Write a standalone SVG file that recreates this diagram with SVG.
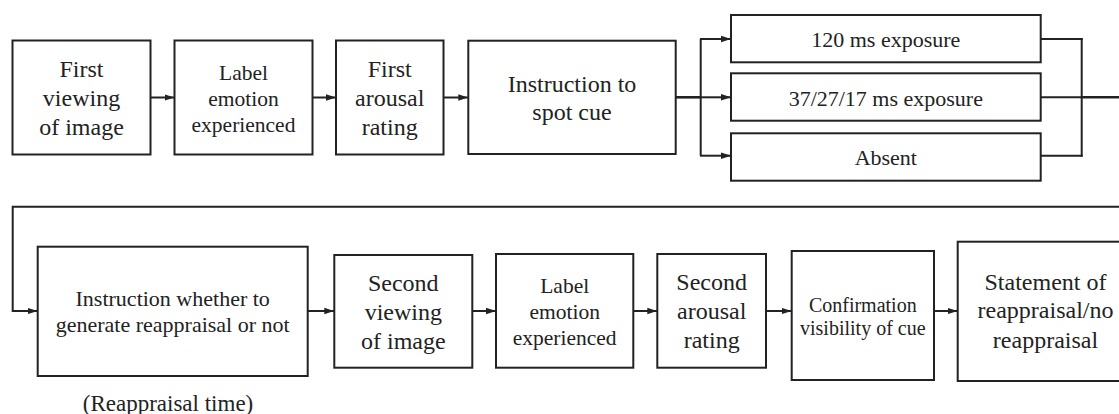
<svg xmlns="http://www.w3.org/2000/svg" width="1119" height="414" viewBox="0 0 1119 414">
  <style>
    .box { fill: #ffffff; stroke: #222222; stroke-width: 2; }
    .line { fill: none; stroke: #222222; stroke-width: 2; }
    .lbl { font-family: 'Liberation Serif', 'DejaVu Serif', 'Times New Roman', Times, serif; fill: #222222; text-anchor: middle; }
    .t24 { font-size: 24px; }
    .t22 { font-size: 22px; }
    .t21 { font-size: 21.5px; }
    .t20 { font-size: 20px; }
  </style>
  <defs>
    <marker id="arrow" markerUnits="userSpaceOnUse" markerWidth="10" markerHeight="8" refX="10" refY="4" orient="auto">
      <path d="M0,0.8 L10,4 L0,7.2 z" fill="#222222"/>
    </marker>
  </defs>
  <rect width="1119" height="414" fill="#ffffff"/>

  <g id="connectors">
    <line class="line" x1="150.5" y1="97.5" x2="174.5" y2="97.5" marker-end="url(#arrow)"/>
    <line class="line" x1="312.5" y1="97.5" x2="336" y2="97.5" marker-end="url(#arrow)"/>
    <line class="line" x1="443.5" y1="97.5" x2="468.3" y2="97.5" marker-end="url(#arrow)"/>
    <line class="line" x1="675.7" y1="97.3" x2="700.7" y2="97.3" style="stroke-width:2.6"/>
    <line class="line" x1="700.7" y1="39" x2="700.7" y2="155.7"/>
    <line class="line" x1="700" y1="39" x2="731" y2="39" marker-end="url(#arrow)"/>
    <line class="line" x1="700" y1="97.3" x2="731" y2="97.3" marker-end="url(#arrow)"/>
    <line class="line" x1="700" y1="155.7" x2="731" y2="155.7" marker-end="url(#arrow)"/>
    <line class="line" x1="1040.7" y1="39" x2="1082.7" y2="39"/>
    <line class="line" x1="1040.7" y1="97.3" x2="1081.7" y2="97.3"/>
    <line class="line" x1="1040.7" y1="155.7" x2="1082.7" y2="155.7"/>
    <line class="line" x1="1081.7" y1="38" x2="1081.7" y2="156.7"/>
    <line class="line" x1="1081.7" y1="97.3" x2="1119" y2="97.3" style="stroke-width:2.6"/>
    <polyline class="line" points="1119,206.7 12.7,206.7 12.7,311 37.7,311" marker-end="url(#arrow)"/>
    <line class="line" x1="307.7" y1="311" x2="334.3" y2="311" marker-end="url(#arrow)"/>
    <line class="line" x1="472.3" y1="311" x2="496" y2="311" marker-end="url(#arrow)"/>
    <line class="line" x1="633.3" y1="311" x2="657.3" y2="311" marker-end="url(#arrow)"/>
    <line class="line" x1="766" y1="311" x2="791.7" y2="311" marker-end="url(#arrow)"/>
    <line class="line" x1="934" y1="311" x2="957.7" y2="311" marker-end="url(#arrow)"/>
  </g>

  <g id="first-viewing">
    <rect class="box" x="12.5" y="40.5" width="138" height="114"/>
    <text class="lbl t24" x="81.5" y="77.3">First</text>
    <text class="lbl t24" x="81.5" y="106">viewing</text>
    <text class="lbl t24" x="81.5" y="135">of image</text>
  </g>
  <g id="label-emotion-1">
    <rect class="box" x="174.5" y="40.5" width="138" height="114"/>
    <text class="lbl t21" x="243.5" y="80">Label</text>
    <text class="lbl t21" x="243.5" y="106">emotion</text>
    <text class="lbl t21" x="243.5" y="132.3">experienced</text>
  </g>
  <g id="first-arousal">
    <rect class="box" x="336" y="40.5" width="107.5" height="114"/>
    <text class="lbl t24" x="389.7" y="77.3">First</text>
    <text class="lbl t24" x="389.7" y="106">arousal</text>
    <text class="lbl t24" x="389.7" y="135">rating</text>
  </g>
  <g id="instruction-spot-cue">
    <rect class="box" x="468.3" y="40.7" width="207.4" height="113.3"/>
    <text class="lbl t24" x="572" y="91.7">Instruction to</text>
    <text class="lbl t24" x="572" y="120">spot cue</text>
  </g>
  <g id="exposure-120">
    <rect class="box" x="731" y="15" width="309.7" height="47.3"/>
    <text class="lbl t22" x="885.8" y="47">120 ms exposure</text>
  </g>
  <g id="exposure-37-27-17">
    <rect class="box" x="731" y="73.3" width="309.7" height="47.4"/>
    <text class="lbl t22" x="885.8" y="105.5">37/27/17 ms exposure</text>
  </g>
  <g id="absent">
    <rect class="box" x="731" y="133.3" width="309.7" height="47.4"/>
    <text class="lbl t22" x="885.8" y="164.5">Absent</text>
  </g>

  <g id="instruction-reappraisal">
    <rect class="box" x="37.7" y="246.7" width="270" height="129.3"/>
    <text class="lbl t22" x="172.7" y="306">Instruction whether to</text>
    <text class="lbl t22" x="172.7" y="331.7">generate reappraisal or not</text>
  </g>
  <g id="reappraisal-time">
    <text class="lbl" x="168" y="410.5" font-size="23">(Reappraisal time)</text>
  </g>
  <g id="second-viewing">
    <rect class="box" x="334.3" y="255" width="138" height="112.7"/>
    <text class="lbl t24" x="403.3" y="290.7">Second</text>
    <text class="lbl t24" x="403.3" y="320">viewing</text>
    <text class="lbl t24" x="403.3" y="349">of image</text>
  </g>
  <g id="label-emotion-2">
    <rect class="box" x="496" y="254" width="137.3" height="113.7"/>
    <text class="lbl t21" x="564.7" y="293.3">Label</text>
    <text class="lbl t21" x="564.7" y="319.3">emotion</text>
    <text class="lbl t21" x="564.7" y="344.5">experienced</text>
  </g>
  <g id="second-arousal">
    <rect class="box" x="657.3" y="254" width="108.7" height="113.7"/>
    <text class="lbl t24" x="711.7" y="290">Second</text>
    <text class="lbl t24" x="711.7" y="319.3">arousal</text>
    <text class="lbl t24" x="711.7" y="348.3">rating</text>
  </g>
  <g id="confirmation">
    <rect class="box" x="791.7" y="251" width="142.3" height="129"/>
    <text class="lbl t20" x="862.8" y="311.7">Confirmation</text>
    <text class="lbl t20" x="862.8" y="335">visibility of cue</text>
  </g>
  <g id="statement">
    <rect class="box" x="957.7" y="241.7" width="176" height="139.3"/>
    <text class="lbl t24" x="1045.5" y="290">Statement of</text>
    <text class="lbl t24" x="1045.5" y="318.3">reappraisal/no</text>
    <text class="lbl t24" x="1045.5" y="348.3">reappraisal</text>
  </g>
</svg>
